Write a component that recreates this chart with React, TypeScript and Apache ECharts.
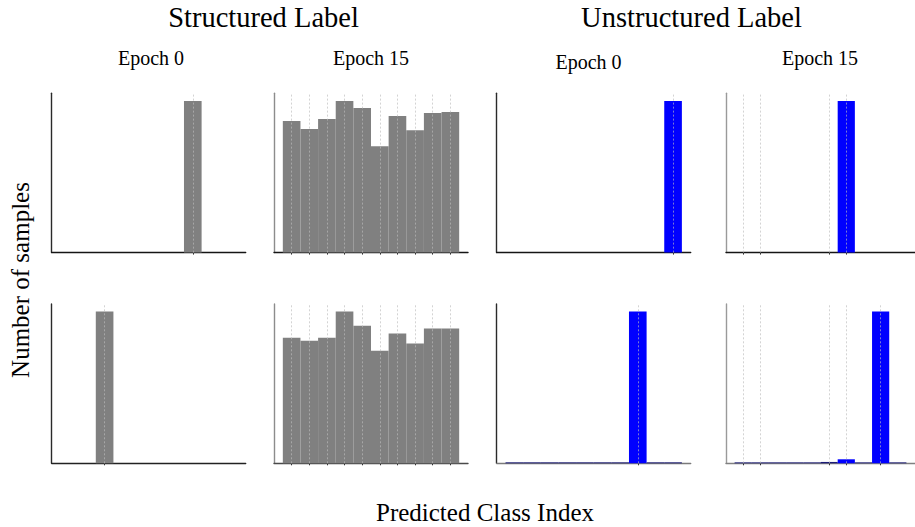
import React, { useEffect, useRef } from "react";
import * as echarts from "echarts";

// ---- data ----
const classIndex = [0, 1, 2, 3, 4, 5, 6, 7, 8, 9];

// Structured label
const structuredEpoch0Top = [0, 0, 0, 0, 0, 0, 0, 10000, 0, 0];
const structuredEpoch15Top = [988, 928, 1003, 1140, 1086, 799, 1026, 920, 1049, 1057];
const structuredEpoch0Bottom = [0, 0, 10000, 0, 0, 0, 0, 0, 0, 0];
const structuredEpoch15Bottom = [970, 947, 970, 1172, 1063, 870, 1002, 925, 1041, 1041];

// Unstructured label
const unstructuredEpoch0Top = [0, 0, 0, 0, 0, 0, 0, 0, 0, 10000];
const unstructuredEpoch15Top = [0, 0, 0, 0, 0, 0, 10000, 0, 0, 0];
const unstructuredEpoch0Bottom = [60, 60, 60, 60, 60, 60, 60, 9460, 60, 60];
const unstructuredEpoch15Bottom = [55, 55, 55, 55, 55, 80, 238, 55, 9000, 55];

// class positions with vertical guide lines / ticks
const guidesStructuredEpoch0Top = [7];
const guidesStructuredEpoch15Top = [0, 1, 2, 3, 4, 5, 6, 7, 8, 9];
const guidesStructuredEpoch0Bottom = [2];
const guidesStructuredEpoch15Bottom = [0, 1, 2, 3, 4, 5, 6, 7, 8, 9];
const guidesUnstructuredEpoch0Top = [9];
const guidesUnstructuredEpoch15Top = [0, 1, 5, 6];
const guidesUnstructuredEpoch0Bottom = [7];
const guidesUnstructuredEpoch15Bottom = [0, 1, 5, 6, 8];

const groupTitles = ["Structured Label", "Unstructured Label"];
const epochTitles = ["Epoch 0", "Epoch 15", "Epoch 0", "Epoch 15"];
const yTitle = "Number of samples";
const xTitle = "Predicted Class Index";

// ---- layout ----
const COL_LEFT = [51.7, 274, 496.7, 726];
const ROW_TOP = [93.3, 304];
const GRID_W = 194;
const GRID_H = 159.3;
const Y_AXIS_COLORS = ["#2a2a2a", "#8c8c8c", "#2a2a2a", "#9a9a9a"];
const X_AXIS_COLORS = [
  ["#151515", "#151515", "#151515", "#151515"],
  ["#222222", "#4a4a4a", "#7a7a7a", "#808080"],
];
const FONT = '"Liberation Serif", "Times New Roman", serif';

const panels = [
  { row: 0, col: 0, values: structuredEpoch0Top, guides: guidesStructuredEpoch0Top, color: "#808080" },
  { row: 0, col: 1, values: structuredEpoch15Top, guides: guidesStructuredEpoch15Top, color: "#808080" },
  { row: 0, col: 2, values: unstructuredEpoch0Top, guides: guidesUnstructuredEpoch0Top, color: "#0000ff" },
  { row: 0, col: 3, values: unstructuredEpoch15Top, guides: guidesUnstructuredEpoch15Top, color: "#0000ff" },
  { row: 1, col: 0, values: structuredEpoch0Bottom, guides: guidesStructuredEpoch0Bottom, color: "#808080" },
  { row: 1, col: 1, values: structuredEpoch15Bottom, guides: guidesStructuredEpoch15Bottom, color: "#808080" },
  { row: 1, col: 2, values: unstructuredEpoch0Bottom, guides: guidesUnstructuredEpoch0Bottom, color: "#0000ff" },
  { row: 1, col: 3, values: unstructuredEpoch15Bottom, guides: guidesUnstructuredEpoch15Bottom, color: "#0000ff" },
];

function buildOption() {
  const grid: any[] = [];
  const xAxis: any[] = [];
  const yAxis: any[] = [];
  const series: any[] = [];

  panels.forEach((p, i) => {
    grid.push({
      left: COL_LEFT[p.col],
      top: ROW_TOP[p.row],
      width: GRID_W,
      height: GRID_H,
      containLabel: false,
    });
    xAxis.push({
      type: "value",
      gridIndex: i,
      min: -1,
      max: 10,
      axisLine: { show: true, onZero: false, lineStyle: { color: X_AXIS_COLORS[p.row][p.col], width: 1.4 } },
      axisTick: {
        show: true,
        customValues: p.guides,
        length: 2,
        inside: false,
        lineStyle: { color: "#333", width: 1 },
      },
      axisLabel: { show: false },
      splitLine: { show: false },
    });
    const maxV = Math.max(...p.values);
    yAxis.push({
      type: "value",
      gridIndex: i,
      min: 0,
      max: maxV * 1.05,
      axisLine: { show: true, onZero: false, lineStyle: { color: Y_AXIS_COLORS[p.col], width: 1.4 } },
      axisTick: { show: false },
      axisLabel: { show: false },
      splitLine: { show: false },
    });
    const barColor = p.color;
    series.push({
      type: "custom",
      xAxisIndex: i,
      yAxisIndex: i,
      encode: { x: 0, y: 1 },
      data: classIndex.map((c, k) => [c, p.values[k]]),
      renderItem: (params: any, api: any) => {
        const x = api.value(0);
        const v = api.value(1);
        if (!(v > 0)) return { type: "group", children: [] };
        const p0 = api.coord([x - 0.5, v]);
        const p1 = api.coord([x + 0.5, 0]);
        const h = p1[1] - p0[1];
        const tiny = h < 2;
        return {
          type: "rect",
          shape: { x: p0[0], y: p0[1], width: p1[0] - p0[0], height: h },
          style: { fill: tiny && barColor === "#0000ff" ? "#1c1c78" : barColor },
        };
      },
      markLine: {
        silent: true,
        symbol: ["none", "none"],
        label: { show: false },
        lineStyle: { type: [2, 2], color: "#bbbbbb", width: 1, opacity: 0.65 },
        data: p.guides.map((g) => ({ xAxis: g })),
      },
      z: 2,
    });
  });

  const text = (t: string, x: number, y: number, size: number, rotation = 0) => ({
    type: "text",
    x,
    y,
    rotation,
    style: {
      text: t,
      fontSize: size,
      fontFamily: FONT,
      fill: "#000",
      align: "center",
      verticalAlign: "middle",
      textAlign: "center",
      textVerticalAlign: "middle",
    },
  });

  const graphic = [
    text(groupTitles[0], 263.5, 17, 28.5),
    text(groupTitles[1], 691.5, 17, 28.5),
    text(epochTitles[0], 151, 58, 20),
    text(epochTitles[1], 371, 58, 20),
    text(epochTitles[2], 588.5, 62, 20),
    text(epochTitles[3], 820, 58, 20),
    text(yTitle, 20, 280, 25, Math.PI / 2),
    text(xTitle, 485, 512, 25),
  ];

  return {
    animation: false,
    backgroundColor: "#ffffff",
    grid,
    xAxis,
    yAxis,
    series,
    graphic,
  };
}

export default function App() {
  const ref = useRef<HTMLDivElement>(null);
  useEffect(() => {
    if (!ref.current) return;
    const chart = echarts.init(ref.current, undefined, { renderer: "svg" });
    chart.setOption(buildOption() as any);
    return () => chart.dispose();
  }, []);
  return (
    <div
      ref={ref}
      style={{ position: "fixed", left: 0, top: 0, width: 915, height: 527, background: "#fff" }}
    />
  );
}
